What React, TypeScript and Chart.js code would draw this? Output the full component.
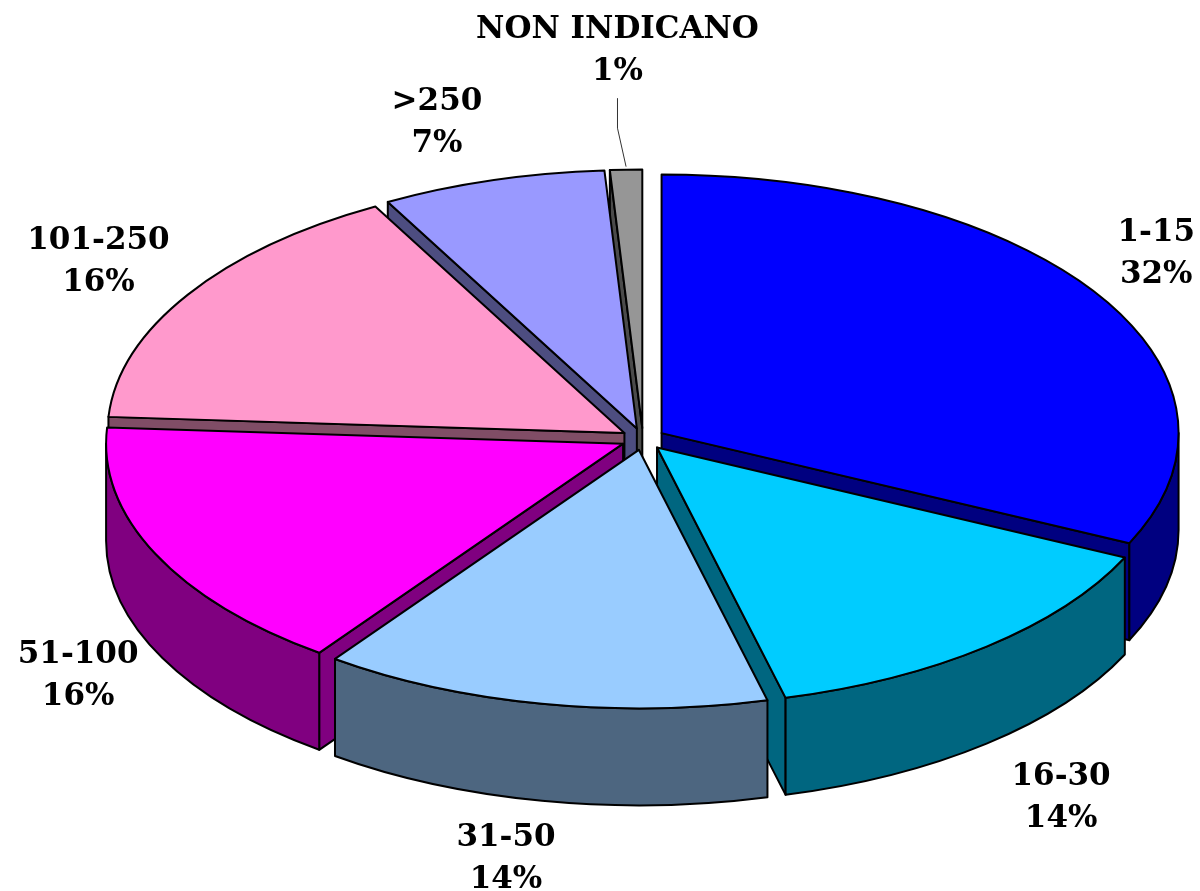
import React, { useEffect, useRef } from 'react';
import { Chart, registerables } from 'chart.js';

Chart.register(...registerables);

// ---- data ----
const categories = ['1-15', '16-30', '31-50', '51-100', '101-250', '>250', 'NON INDICANO'];
const shares = [32, 14, 14, 16, 16, 7, 1];
const topColors = ['#0000FF', '#00CCFF', '#99CCFF', '#FF00FF', '#FF99CC', '#9999FF', '#969696'];
const sideColors = ['#000080', '#006680', '#4D6680', '#800080', '#804D66', '#4D4D80', '#4B4B4B'];
// manual label drags (as done in the original spreadsheet), relative to default placement
const labelNudges = [[-5, -2], [20, 13], [-20, -20], [10, 44], [1, 6], [-33, 14], [-3, -44]];
const leaderLines = [false, false, false, false, false, false, true];

// ---- look ----
const W = 1200;
const H = 891;
const RADIUS = 517;
const TILT = 0.5;
const DEPTH = 97;
const EXPLODE = 22;
const LABEL_RX = 575;
const LABEL_RY = 315;
const FONT = 'bold 31px "DejaVu Serif"';

const pie3d = {
  id: 'pie3d',
  beforeDatasetsDraw(chart: any) {
    const ctx: CanvasRenderingContext2D = chart.ctx;
    const meta = chart.getDatasetMeta(0);
    const items = meta.data.map((arc: any, i: number) => {
      const p = arc.getProps(['x', 'y', 'startAngle', 'endAngle', 'outerRadius'], true);
      const h = (p.startAngle + p.endAngle) / 2;
      return {
        arc, i, x: p.x, y: p.y, s: p.startAngle, e: p.endAngle, r: p.outerRadius, h,
        cx: p.x + EXPLODE * Math.cos(h),
        cy: p.y + TILT * EXPLODE * Math.sin(h),
      };
    });
    const order = [...items].sort((a: any, b: any) => Math.sin(a.h) - Math.sin(b.h));

    ctx.save();
    ctx.lineWidth = 2;
    ctx.strokeStyle = '#000';
    ctx.lineJoin = 'round';
    for (const it of order) {
      const { cx, cy, r, s, e } = it;
      const ry = r * TILT;
      const px = (t: number) => cx + r * Math.cos(t);
      const py = (t: number) => cy + ry * Math.sin(t);
      ctx.fillStyle = sideColors[it.i];
      const face = (t: number) => {
        ctx.beginPath();
        ctx.moveTo(cx, cy);
        ctx.lineTo(px(t), py(t));
        ctx.lineTo(px(t), py(t) + DEPTH);
        ctx.lineTo(cx, cy + DEPTH);
        ctx.closePath();
        ctx.fill();
        ctx.stroke();
      };
      if (Math.cos(s) < -1e-6) face(s);
      if (Math.cos(e) > 1e-6) face(e);
      const a = Math.max(s, 0);
      const b = Math.min(e, Math.PI);
      if (b > a) {
        ctx.beginPath();
        ctx.ellipse(cx, cy, r, ry, 0, a, b, false);
        ctx.lineTo(px(b), py(b) + DEPTH);
        ctx.ellipse(cx, cy + DEPTH, r, ry, 0, b, a, true);
        ctx.closePath();
        ctx.fill();
        ctx.stroke();
      }
      // top face drawn by the library's arc element, tilted
      ctx.save();
      ctx.translate(cx, cy);
      ctx.scale(1, TILT);
      ctx.translate(-it.x, -it.y);
      it.arc.draw(ctx);
      ctx.restore();
      ctx.beginPath();
      ctx.moveTo(cx, cy);
      ctx.ellipse(cx, cy, r, ry, 0, s, e, false);
      ctx.closePath();
      ctx.stroke();
    }

    // labels
    ctx.font = FONT;
    ctx.fillStyle = '#000';
    ctx.textAlign = 'center';
    ctx.textBaseline = 'alphabetic';
    for (const it of items) {
      const l1 = categories[it.i];
      const l2 = `${shares[it.i]}%`;
      const w = Math.max(ctx.measureText(l1).width, ctx.measureText(l2).width);
      const c = Math.cos(it.h);
      const sn = Math.sin(it.h);
      const lx = it.x + (LABEL_RX + w / 2) * c + labelNudges[it.i][0];
      const ly = it.y + (LABEL_RY + 32.5) * sn + DEPTH * Math.max(0, sn) + labelNudges[it.i][1];
      ctx.fillText(l1, lx, ly - 9.5);
      ctx.fillText(l2, lx, ly + 32.5);
      if (leaderLines[it.i]) {
        const ex = it.cx + it.r * c;
        const ey = it.cy + TILT * it.r * sn - 3;
        ctx.save();
        ctx.lineWidth = 1;
        ctx.strokeStyle = '#333';
        ctx.beginPath();
        ctx.moveTo(lx, ly + 32.5 + 18);
        ctx.lineTo(lx, ly + 32.5 + 48);
        ctx.lineTo(ex, ey);
        ctx.stroke();
        ctx.restore();
      }
    }
    ctx.restore();
    return false;
  },
};

export default function App() {
  const ref = useRef<HTMLCanvasElement | null>(null);
  useEffect(() => {
    document.body.style.margin = '0';
    document.body.style.overflow = 'hidden';
    const canvas = ref.current;
    if (!canvas) return;
    const chart = new Chart(canvas, {
      type: 'pie',
      data: {
        labels: categories,
        datasets: [
          {
            data: shares,
            backgroundColor: topColors,
            borderWidth: 0,
            offset: 0,
            radius: RADIUS,
          } as any,
        ],
      },
      options: {
        responsive: false,
        maintainAspectRatio: false,
        animation: false,
        events: [],
        layout: { padding: { left: 86, right: 0, top: 0, bottom: 13 } },
        plugins: {
          legend: { display: false },
          tooltip: { enabled: false },
        },
      },
      plugins: [pie3d],
    });
    return () => chart.destroy();
  }, []);
  return <canvas ref={ref} width={W} height={H} style={{ display: 'block' }} />;
}
